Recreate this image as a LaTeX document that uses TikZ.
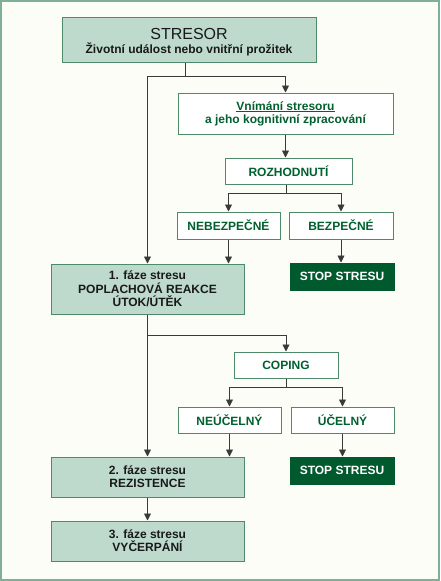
\documentclass[tikz,border=0pt]{standalone}
\usepackage{fontspec}
\setmainfont{Liberation Sans}
\usetikzlibrary{arrows.meta}
\definecolor{bgc}{HTML}{FCFDF7}
\definecolor{framec}{HTML}{7FB096}
\definecolor{boxfill}{HTML}{BDDACD}
\definecolor{boxedge}{HTML}{4E8A6A}
\definecolor{darkg}{HTML}{005A2E}
\definecolor{textg}{HTML}{00602F}
\definecolor{linec}{HTML}{3A3A3A}
\tikzset{
  phase/.style={draw=boxedge, fill=boxfill, line width=1pt, inner sep=0pt, align=center,
    font=\fontsize{12}{13.3}\selectfont\bfseries, text=black!90},
  wbox/.style={draw=boxedge, fill=white, line width=1pt, inner sep=0pt, align=center,
    font=\fontsize{12}{13}\selectfont\bfseries, text=textg},
  stopbox/.style={draw=darkg, fill=darkg, line width=1pt, inner sep=0pt, align=center,
    font=\fontsize{12}{13}\selectfont\bfseries, text=white},
  conn/.style={draw=linec, line width=0.9pt},
  arr/.style={conn, -{Triangle[width=7pt,length=7pt]}},
}
\begin{document}
\begin{tikzpicture}[x=1pt,y=-1pt]
\useasboundingbox (0,0) rectangle (440,581);
\fill[bgc] (0,0) rectangle (440,581);
\draw[framec, line width=2pt] (1,1) rectangle (439,580);

\node[phase, minimum width=254pt, minimum height=45pt,
  label={[align=center, yshift=-2.5pt, font=\fontsize{12}{13.3}\selectfont\bfseries, text=black!90]center:{{\fontsize{16}{16}\selectfont\mdseries STRESOR}\\[1pt]Životní událost nebo vnitřní prožitek}}]
  (stresor) at (189,39.5) {};
\node[wbox, minimum width=215pt, minimum height=41pt] (vnim) at (285.5,113.5)
  {\underline{Vnímání stresoru}\\a jeho kognitivní zpracování};
\node[wbox, minimum width=127pt, minimum height=26pt] (roz) at (288.5,171) {ROZHODNUTÍ};
\node[wbox, minimum width=103pt, minimum height=27pt] (nebez) at (228.5,225.5) {NEBEZPEČNÉ};
\node[wbox, minimum width=104pt, minimum height=27pt] (bez) at (341,225.5) {BEZPEČNÉ};
\node[stopbox, minimum width=104pt, minimum height=27pt] (stop1) at (342,276.5) {STOP STRESU};
\node[phase, minimum width=193pt, minimum height=50pt] (faze1) at (147.5,289)
  {1. fáze stresu\\POPLACHOVÁ REAKCE\\ÚTOK/ÚTĚK};
\node[wbox, minimum width=104pt, minimum height=26pt] (coping) at (286,365) {COPING};
\node[wbox, minimum width=103pt, minimum height=26pt] (neuc) at (229.5,420) {NEÚČELNÝ};
\node[wbox, minimum width=103pt, minimum height=26pt] (uc) at (342.5,420) {ÚČELNÝ};
\node[stopbox, minimum width=104pt, minimum height=27pt] (stop2) at (342,470.5) {STOP STRESU};
\node[phase, minimum width=193pt, minimum height=40pt] (faze2) at (147.5,477)
  {2. fáze stresu\\REZISTENCE};
\node[phase, minimum width=193pt, minimum height=40pt] (faze3) at (147.5,541)
  {3. fáze stresu\\VYČERPÁNÍ};

\coordinate (j1) at (185,76);
\coordinate (j2) at (286,193);
\coordinate (j3) at (147.5,335);
\coordinate (j4) at (286,387);

\draw[conn] (stresor.south -| j1) -- (j1);
\draw[arr] (j1) -| (vnim.north);
\draw[arr] (j1) -| (faze1.north);
\draw[arr] (vnim.south) -- (vnim.south |- roz.north);
\draw[conn] (roz.south -| j2) -- (j2);
\draw[arr] (j2) -| (nebez.north);
\draw[arr] (j2) -| (bez.north);
\draw[arr] (nebez.south) -- (nebez.south |- faze1.north);
\draw[arr] (bez.south) -- (bez.south |- stop1.north);
\draw[conn] (faze1.south) -- (j3);
\draw[arr] (j3) -| (coping.north);
\draw[arr] (j3) -- (faze2.north);
\draw[conn] (coping.south) -- (j4);
\draw[arr] (j4) -| (neuc.north);
\draw[arr] (j4) -| (uc.north);
\draw[arr] (neuc.south) -- (neuc.south |- faze2.north);
\draw[arr] (uc.south) -- (uc.south |- stop2.north);
\draw[arr] (faze2.south) -- (faze3.north);
\end{tikzpicture}
\end{document}
